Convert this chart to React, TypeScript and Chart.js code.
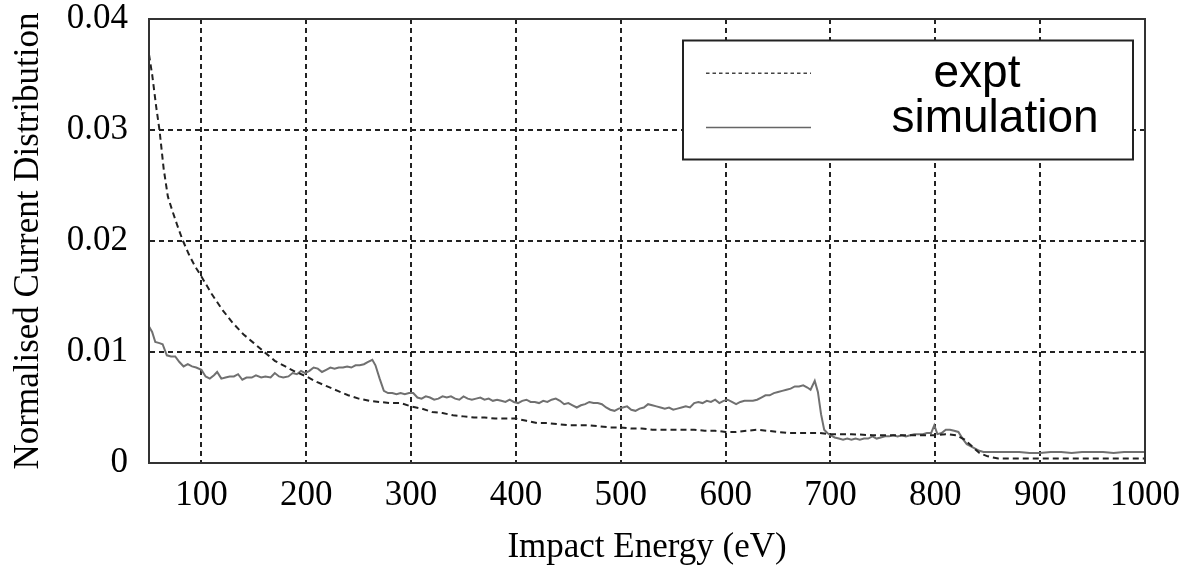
import React, { useEffect, useRef } from 'react';
import { Chart, registerables } from 'chart.js';

Chart.register(...registerables);

// ---- Data ----
const seriesLabels = ['expt', 'simulation'];
const xTitle = 'Impact Energy (eV)';
const yTitle = 'Normalised Current Distribution';

const xMin = 50;
const xMax = 1000;
const yMin = 0;
const yMax = 0.04;
const xStep = 100;
const yStep = 0.01;

const exptEnergy = [
  50, 53, 57, 60, 64, 68, 72, 77, 82, 88, 94, 100, 110, 120, 130, 140, 150, 160, 170, 180,
  190, 200, 210, 220, 230, 240, 250, 260, 270, 280, 290, 300, 310, 320, 330, 340, 350, 360, 370, 380,
  390, 400, 410, 420, 430, 440, 450, 460, 470, 480, 490, 500, 510, 520, 530, 540, 550, 560, 570, 580,
  590, 600, 610, 620, 630, 640, 650, 660, 670, 680, 690, 700, 720, 740, 760, 780, 800, 810, 820, 828,
  835, 842, 850, 860, 880, 900, 920, 940, 960, 980, 1000,
];
const exptValue = [
  0.0368, 0.0350, 0.0320, 0.0300, 0.0265, 0.0240, 0.0228, 0.0214, 0.0201, 0.0188, 0.0177, 0.0168, 0.0152, 0.0138, 0.0126, 0.0116, 0.0108, 0.0100, 0.0092, 0.0087,
  0.0082, 0.0078, 0.0073, 0.0069, 0.0065, 0.0061, 0.0058, 0.0056, 0.0055, 0.0054, 0.0054, 0.0051, 0.0049, 0.0046, 0.0045, 0.0043, 0.0042, 0.0041, 0.0041, 0.0040,
  0.0040, 0.0040, 0.0038, 0.0036, 0.0036, 0.0035, 0.0034, 0.0034, 0.0034, 0.0033, 0.0032, 0.0032, 0.0031, 0.0031, 0.0030, 0.0030, 0.0030, 0.0030, 0.0030, 0.0029,
  0.0029, 0.0028, 0.0028, 0.0029, 0.0030, 0.0029, 0.0028, 0.0027, 0.0027, 0.0027, 0.0027, 0.0026, 0.0026, 0.0025, 0.0025, 0.0025, 0.0025, 0.0026, 0.0025, 0.0021,
  0.0015, 0.0009, 0.0006, 0.0004, 0.0004, 0.0004, 0.0004, 0.0004, 0.0004, 0.0004, 0.0004,
];

const simEnergy = [
  50, 53, 56, 60, 63, 67, 71, 75, 79, 83, 87, 91, 95, 100, 104, 108, 112, 115, 119, 123,
  127, 131, 135, 139, 143, 148, 152, 157, 161, 166, 170, 174, 178, 183, 187, 191, 195, 199, 203, 207,
  211, 215, 219, 223, 227, 231, 235, 239, 243, 247, 251, 255, 259, 263, 266, 270, 274, 278, 282, 286,
  290, 294, 298, 302, 306, 310, 314, 318, 322, 326, 330, 334, 338, 342, 346, 350, 354, 358, 362, 366,
  370, 374, 378, 382, 386, 390, 394, 398, 402, 406, 410, 414, 418, 422, 426, 430, 434, 438, 442, 446,
  450, 454, 458, 462, 466, 470, 474, 478, 482, 486, 490, 494, 498, 502, 506, 510, 514, 518, 522, 526,
  530, 534, 538, 542, 546, 550, 554, 558, 562, 566, 570, 574, 578, 582, 586, 590, 594, 598, 602, 606,
  610, 614, 618, 622, 626, 630, 634, 638, 642, 646, 650, 654, 658, 662, 666, 670, 674, 678, 681, 685,
  688, 691, 694, 697, 700, 704, 708, 712, 716, 720, 724, 728, 732, 736, 740, 744, 748, 752, 756, 760,
  764, 768, 772, 776, 780, 784, 788, 792, 796, 799, 802, 806, 810, 814, 818, 822, 826, 830, 834, 838,
  842, 846, 850, 860, 870, 880, 890, 900, 910, 920, 930, 940, 950, 960, 970, 980, 990, 1000,
];
const simValue = [
  0.0123, 0.0118, 0.0109, 0.0108, 0.0107, 0.0097, 0.0096, 0.0096, 0.0091, 0.0087, 0.0089, 0.0087, 0.0086, 0.0084, 0.0078, 0.0076, 0.0079, 0.0082, 0.0076, 0.0077,
  0.0078, 0.0078, 0.0080, 0.0075, 0.0077, 0.0077, 0.0079, 0.0077, 0.0078, 0.0077, 0.0081, 0.0078, 0.0077, 0.0078, 0.0081, 0.0080, 0.0083, 0.0081, 0.0083, 0.0086,
  0.0085, 0.0082, 0.0084, 0.0086, 0.0085, 0.0086, 0.0086, 0.0087, 0.0086, 0.0088, 0.0088, 0.0089, 0.0091, 0.0093, 0.0088, 0.0076, 0.0065, 0.0063, 0.0063, 0.0062,
  0.0063, 0.0062, 0.0063, 0.0063, 0.0059, 0.0058, 0.0060, 0.0059, 0.0057, 0.0058, 0.0060, 0.0059, 0.0060, 0.0058, 0.0057, 0.0060, 0.0058, 0.0057, 0.0058, 0.0059,
  0.0057, 0.0058, 0.0056, 0.0057, 0.0056, 0.0055, 0.0057, 0.0055, 0.0054, 0.0056, 0.0057, 0.0055, 0.0055, 0.0054, 0.0056, 0.0055, 0.0057, 0.0058, 0.0056, 0.0053,
  0.0054, 0.0052, 0.0050, 0.0052, 0.0053, 0.0055, 0.0054, 0.0054, 0.0053, 0.0050, 0.0048, 0.0047, 0.0049, 0.0050, 0.0051, 0.0048, 0.0047, 0.0049, 0.0050, 0.0053,
  0.0052, 0.0051, 0.0050, 0.0049, 0.0050, 0.0048, 0.0049, 0.0050, 0.0051, 0.0050, 0.0054, 0.0055, 0.0054, 0.0056, 0.0055, 0.0057, 0.0054, 0.0056, 0.0057, 0.0055,
  0.0053, 0.0055, 0.0056, 0.0056, 0.0056, 0.0057, 0.0059, 0.0061, 0.0061, 0.0063, 0.0064, 0.0065, 0.0066, 0.0067, 0.0069, 0.0069, 0.0070, 0.0068, 0.0066, 0.0074,
  0.0064, 0.0044, 0.0030, 0.0027, 0.0025, 0.0023, 0.0022, 0.0021, 0.0022, 0.0021, 0.0022, 0.0021, 0.0022, 0.0022, 0.0024, 0.0022, 0.0023, 0.0024, 0.0024, 0.0025,
  0.0024, 0.0025, 0.0024, 0.0025, 0.0026, 0.0026, 0.0026, 0.0027, 0.0027, 0.0034, 0.0026, 0.0027, 0.0030, 0.0030, 0.0029, 0.0028, 0.0022, 0.0017, 0.0015, 0.0013,
  0.0011, 0.0010, 0.0010, 0.0010, 0.0010, 0.0010, 0.0009, 0.0009, 0.0010, 0.0010, 0.0009, 0.0010, 0.0010, 0.0010, 0.0009, 0.0010, 0.0010, 0.0010,
];

// ---- Plugins ----
const frameBox = {
  id: 'frameBox',
  afterDatasetsDraw(chart: any) {
    const { ctx, chartArea: a } = chart;
    ctx.save();
    ctx.strokeStyle = '#333';
    ctx.lineWidth = 2;
    ctx.setLineDash([]);
    ctx.strokeRect(a.left, a.top, a.right - a.left, a.bottom - a.top);
    ctx.restore();
  },
};

const boxLegend = {
  id: 'boxLegend',
  afterDraw(chart: any) {
    const { ctx, chartArea: a } = chart;
    const x0 = a.left + 534;
    const y0 = a.top + 21.5;
    const w = 450;
    const h = 119;
    ctx.save();
    ctx.fillStyle = '#ffffff';
    ctx.fillRect(x0, y0, w, h);
    ctx.strokeStyle = '#222';
    ctx.lineWidth = 2;
    ctx.setLineDash([]);
    ctx.strokeRect(x0, y0, w, h);

    const rows = [
      { lineY: 32.7, textX: 294, textY: 46.7 },
      { lineY: 87, textX: 312, textY: 91.7 },
    ];
    chart.data.datasets.forEach((ds: any, i: number) => {
      const r = rows[i];
      ctx.beginPath();
      ctx.strokeStyle = i === 0 ? '#444' : '#666';
      ctx.lineWidth = 1.5;
      ctx.setLineDash(i === 0 ? [3.5, 3] : []);
      ctx.moveTo(x0 + 23, y0 + r.lineY);
      ctx.lineTo(x0 + 128, y0 + r.lineY);
      ctx.stroke();
      ctx.setLineDash([]);
      ctx.fillStyle = '#000';
      ctx.font = '46px "Liberation Sans", Arial, sans-serif';
      ctx.textAlign = 'center';
      ctx.textBaseline = 'alphabetic';
      ctx.fillText(ds.label, x0 + r.textX, y0 + r.textY);
    });
    ctx.restore();
  },
};

const serif = '"Liberation Serif", "Times New Roman", serif';

export default function App() {
  const canvasRef = useRef<HTMLCanvasElement | null>(null);

  useEffect(() => {
    if (!canvasRef.current) return;
    const expt = exptEnergy.map((x, i) => ({ x, y: exptValue[i] }));
    const sim = simEnergy.map((x, i) => ({ x, y: simValue[i] }));

    const chart = new Chart(canvasRef.current, {
      type: 'line',
      data: {
        datasets: [
          {
            label: seriesLabels[0],
            data: expt,
            borderColor: '#222',
            borderWidth: 2,
            borderDash: [6, 4],
            pointRadius: 0,
            tension: 0,
            fill: false,
          },
          {
            label: seriesLabels[1],
            data: sim,
            borderColor: '#707070',
            borderWidth: 2,
            pointRadius: 0,
            tension: 0,
            fill: false,
          },
        ],
      },
      options: {
        animation: false,
        responsive: true,
        maintainAspectRatio: false,
        layout: { padding: { left: 0, top: 19, right: 43, bottom: 0 } },
        plugins: {
          legend: { display: false },
          tooltip: { enabled: false },
        },
        scales: {
          x: {
            type: 'linear',
            min: xMin,
            max: xMax,
            afterFit: (s: any) => {
              s.height = 106;
              s.paddingLeft = 0;
              s.paddingRight = 0;
            },
            ticks: {
              stepSize: xStep,
              includeBounds: false,
              autoSkip: false,
              maxRotation: 0,
              padding: 12,
              color: '#000',
              font: { family: serif, size: 35 },
              callback: (v: any) => String(v),
            },
            grid: { color: '#222', lineWidth: 2, drawTicks: false },
            border: { display: true, color: '#333', width: 2, dash: [5, 4] },
            title: {
              display: true,
              text: xTitle,
              color: '#000',
              font: { family: serif, size: 35 },
              padding: { top: 0, bottom: 0 },
            },
          },
          y: {
            type: 'linear',
            min: yMin,
            max: yMax,
            afterFit: (s: any) => {
              s.width = 149;
              s.paddingTop = 0;
              s.paddingBottom = 0;
            },
            ticks: {
              stepSize: yStep,
              autoSkip: false,
              padding: 21,
              color: '#000',
              font: { family: serif, size: 35 },
              callback: (v: any) => (Number(v) === 0 ? '0' : Number(v).toFixed(2)),
            },
            grid: { color: '#222', lineWidth: 2, drawTicks: false },
            border: { display: true, color: '#333', width: 2, dash: [5, 4] },
            title: {
              display: true,
              text: yTitle,
              color: '#000',
              font: { family: serif, size: 35 },
              padding: { top: 8, bottom: 0 },
            },
          },
        },
      },
      plugins: [frameBox, boxLegend],
    });
    return () => chart.destroy();
  }, []);

  return (
    <div style={{ position: 'fixed', left: 0, top: 0, width: 1188, height: 569, background: '#fff' }}>
      <canvas ref={canvasRef} />
    </div>
  );
}
